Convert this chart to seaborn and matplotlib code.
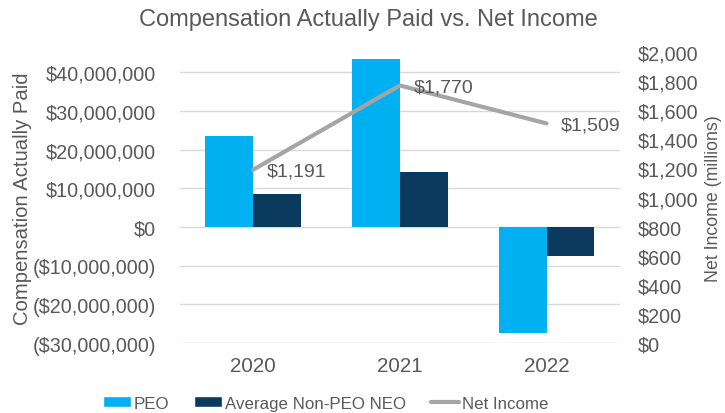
import matplotlib
matplotlib.use("Agg")
import matplotlib.pyplot as plt
import matplotlib.ticker as mticker
from matplotlib.patches import Patch
from matplotlib.lines import Line2D
import seaborn as sns
import pandas as pd

# Data
years = ["2020", "2021", "2022"]
peo_cap = [23_500_000, 43_500_000, -27_300_000]
non_peo_cap = [8_400_000, 14_200_000, -7_500_000]
net_income = [1191, 1770, 1509]  # $ millions

peo_color = "#00B0F0"
neo_color = "#0B3A5F"
line_color = "#A5A5A5"
text_color = "#595959"
grid_color = "#D9D9D9"

sns.set_theme(style="white")
plt.rcParams["font.family"] = ["Liberation Sans", "DejaVu Sans"]

bars = pd.DataFrame({
    "Year": years * 2,
    "Series": ["PEO"] * 3 + ["Average Non-PEO NEO"] * 3,
    "CAP": peo_cap + non_peo_cap,
})
line_df = pd.DataFrame({"Year": years, "Net Income": net_income})

fig = plt.figure(figsize=(7.25, 4.14), dpi=100)
ax = fig.add_axes([0.248, 0.169, 0.607, 0.703])

sns.barplot(data=bars, x="Year", y="CAP", hue="Series",
            palette=[peo_color, neo_color], width=0.65, saturation=1,
            linewidth=0, edgecolor="none",
            ax=ax, legend=False, zorder=2)
ax.set_ylim(-30_000_000, 45_200_000)
ax.set_yticks(range(-30_000_000, 40_000_001, 10_000_000))

def money(v, _):
    if v < 0:
        return f"(${-v:,.0f})"
    return f"${v:,.0f}"

ax.yaxis.set_major_formatter(mticker.FuncFormatter(money))
ax.grid(axis="y", color=grid_color, linewidth=1, zorder=0)
ax.set_axisbelow(True)
for s in ax.spines.values():
    s.set_visible(False)
ax.tick_params(axis="y", length=0, labelsize=14.2, colors=text_color, pad=17)
ax.tick_params(axis="x", length=0, labelsize=14.8, colors=text_color, pad=9)
ax.set_xlabel("")
ax.set_ylabel("Compensation Actually Paid", fontsize=14.6, color=text_color)
ax.yaxis.set_label_coords(-0.335, 0.5)

ax2 = ax.twinx()
sns.pointplot(data=line_df, x="Year", y="Net Income", ax=ax2,
              color=line_color, markers="", linewidth=3)
ax2.set_ylim(0, 2000)
ax2.set_yticks(range(0, 2001, 200))
ax2.yaxis.set_major_formatter(mticker.FuncFormatter(lambda v, _: f"${v:,.0f}"))
for s in ax2.spines.values():
    s.set_visible(False)
ax2.tick_params(axis="y", length=0, labelsize=14.2, colors=text_color, pad=13)
ax2.set_ylabel("Net Income (millions)", fontsize=12.8, color=text_color)
ax2.yaxis.set_label_coords(1.193, 0.5)
ax2.grid(False)
ax2.set_xlim(-0.5, 2.5)

for i, v in enumerate(net_income):
    ax2.annotate(f"${v:,.0f}", (i, v), xytext=(10, -1), textcoords="offset points",
                 ha="left", va="center", fontsize=14, color=text_color)

fig.text(0.508, 0.952, "Compensation Actually Paid vs. Net Income", fontsize=17,
         color=text_color, ha="center", va="center")

handles = [
    Patch(facecolor=peo_color, label="PEO"),
    Patch(facecolor=neo_color, label="Average Non-PEO NEO"),
    Line2D([0], [0], color=line_color, linewidth=3, label="Net Income"),
]
leg = fig.legend(handles=handles, loc="center", bbox_to_anchor=(0.449, 0.024),
                 ncol=3, frameon=False, fontsize=12.2, handlelength=1.65,
                 handleheight=0.55, columnspacing=1.5, handletextpad=0.15,
                 borderpad=0)
for t in leg.get_texts():
    t.set_color(text_color)

fig.savefig("out.png", dpi=100)
